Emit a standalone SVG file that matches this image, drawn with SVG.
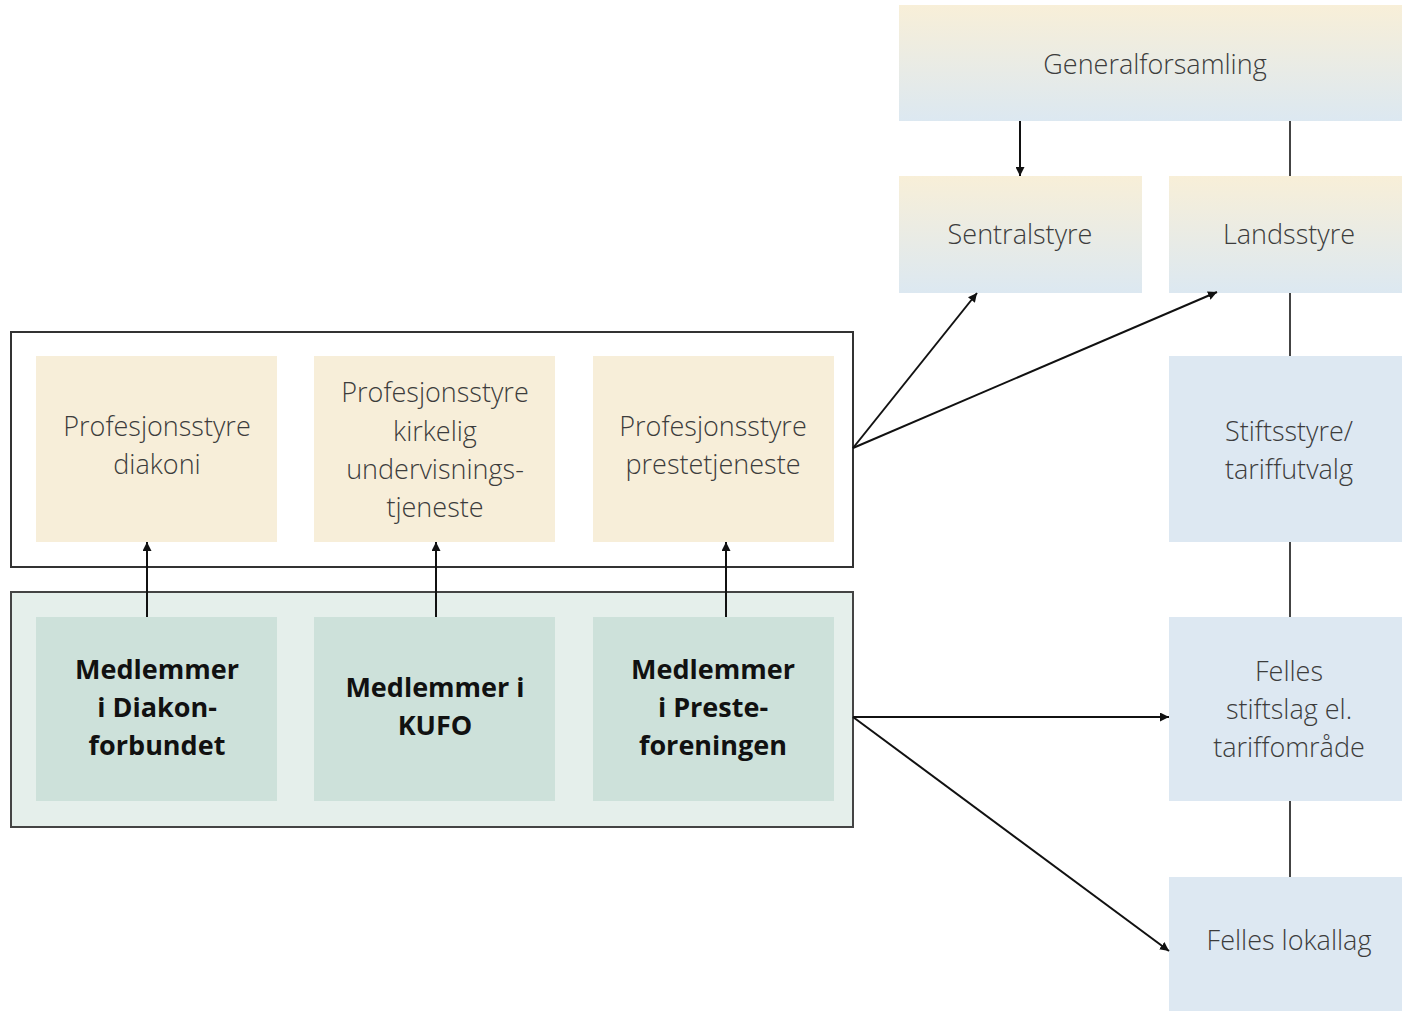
<svg xmlns="http://www.w3.org/2000/svg" width="1402" height="1011" viewBox="0 0 1402 1011">
<defs>
<linearGradient id="gy" x1="0" y1="0" x2="0" y2="1">
<stop offset="0" stop-color="#f8efd8"/>
<stop offset="1" stop-color="#dce8f1"/>
</linearGradient>
<marker id="ah" viewBox="0 0 10 10" refX="10" refY="5" markerWidth="9" markerHeight="9" markerUnits="userSpaceOnUse" orient="auto">
<path d="M0,0 L10,5 L0,10 z" fill="#111"/>
</marker>
<style>
.grad{fill:url(#gy)}
.blue{fill:#dde8f2}
.sand{fill:#f7eed9}
.mint{fill:#cde1da}
.frame{fill:#fff;stroke:#333;stroke-width:2}
.gframe{fill:#e5efeb;stroke:#444;stroke-width:2}
.t{font-family:"Open Sans","Noto Sans",sans-serif;font-size:27px;font-weight:300;fill:#3c3c3c;text-anchor:middle}
.b{font-family:"Open Sans","Noto Sans",sans-serif;font-size:27px;font-weight:700;fill:#111;text-anchor:middle}
.c{stroke:#222;stroke-width:2;fill:none}
.ca{stroke:#111;stroke-width:2;fill:none;marker-end:url(#ah)}
.v{stroke:#444;stroke-width:2;fill:none}
</style>
</defs>
<g id="frame-profesjon"><rect class="frame" x="11" y="332" width="842" height="235"/></g>
<g id="frame-medlem"><rect class="gframe" x="11" y="592" width="842" height="235"/></g>
<g id="generalforsamling"><rect class="grad" x="899" y="5" width="503" height="116"/><text class="t" x="1155" y="74">Generalforsamling</text></g>
<g id="sentralstyre"><rect class="grad" x="899" y="176" width="243" height="117"/><text class="t" x="1020" y="244">Sentralstyre</text></g>
<g id="landsstyre"><rect class="grad" x="1169" y="176" width="233" height="117"/><text class="t" x="1289" y="244">Landsstyre</text></g>
<g id="stiftsstyre"><rect class="blue" x="1169" y="356" width="233" height="186"/><text class="t" x="1289" y="441">Stiftsstyre/</text><text class="t" x="1289" y="479">tariffutvalg</text></g>
<g id="felles-stiftslag"><rect class="blue" x="1169" y="617" width="233" height="184"/><text class="t" x="1289" y="681">Felles</text><text class="t" x="1289" y="719">stiftslag el.</text><text class="t" x="1289" y="757">tariffområde</text></g>
<g id="felles-lokallag"><rect class="blue" x="1169" y="877" width="233" height="134"/><text class="t" x="1289" y="950">Felles lokallag</text></g>
<g id="ps-diakoni"><rect class="sand" x="36" y="356" width="241" height="186"/><text class="t" x="157" y="436">Profesjonsstyre</text><text class="t" x="157" y="474">diakoni</text></g>
<g id="ps-kirkelig"><rect class="sand" x="314" y="356" width="241" height="186"/><text class="t" x="435" y="402">Profesjonsstyre</text><text class="t" x="435" y="441">kirkelig</text><text class="t" x="435" y="479">undervisnings-</text><text class="t" x="435" y="517">tjeneste</text></g>
<g id="ps-prest"><rect class="sand" x="593" y="356" width="241" height="186"/><text class="t" x="713" y="436">Profesjonsstyre</text><text class="t" x="713" y="474">prestetjeneste</text></g>
<g id="m-diakon"><rect class="mint" x="36" y="617" width="241" height="184"/><text class="b" x="157" y="679">Medlemmer</text><text class="b" x="157" y="717">i Diakon-</text><text class="b" x="157" y="755">forbundet</text></g>
<g id="m-kufo"><rect class="mint" x="314" y="617" width="241" height="184"/><text class="b" x="435" y="697">Medlemmer i</text><text class="b" x="435" y="735">KUFO</text></g>
<g id="m-prest"><rect class="mint" x="593" y="617" width="241" height="184"/><text class="b" x="713" y="679">Medlemmer</text><text class="b" x="713" y="717">i Preste-</text><text class="b" x="713" y="755">foreningen</text></g>
<g id="connectors">
<line class="ca" x1="147" y1="617" x2="147" y2="542"/>
<line class="ca" x1="436" y1="617" x2="436" y2="542"/>
<line class="ca" x1="726" y1="617" x2="726" y2="542"/>
<line class="ca" x1="1020" y1="121" x2="1020" y2="176"/>
<line class="v" x1="1290" y1="121" x2="1290" y2="176"/>
<line class="v" x1="1290" y1="293" x2="1290" y2="356"/>
<line class="v" x1="1290" y1="542" x2="1290" y2="617"/>
<line class="v" x1="1290" y1="801" x2="1290" y2="877"/>
<line class="ca" x1="853" y1="448" x2="977" y2="293"/>
<line class="ca" x1="853" y1="448" x2="1217" y2="292"/>
<line class="ca" x1="853" y1="717" x2="1169" y2="717"/>
<line class="ca" x1="853" y1="717" x2="1169" y2="951"/>
</g>
</svg>
